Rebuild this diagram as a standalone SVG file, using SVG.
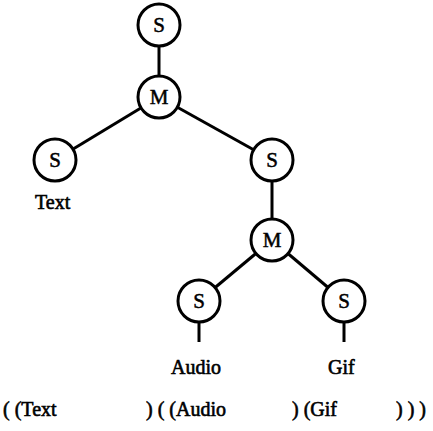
<svg xmlns="http://www.w3.org/2000/svg" width="433" height="431" viewBox="0 0 433 431">
<style>
.n{fill:#fff;stroke:#000;stroke-width:3}
.c line{stroke:#000;stroke-width:3}
.l{font-family:"Liberation Serif",serif;font-size:21px;fill:#000;stroke:#000;stroke-width:0.5;text-anchor:middle}
.t{font-family:"Liberation Serif",serif;font-size:20px;fill:#000;stroke:#000;stroke-width:0.6}
</style>
<rect width="433" height="431" fill="#fff"/>
<g class="c" id="connectors">
<line x1="159" y1="25" x2="159" y2="97"/>
<line x1="159" y1="97" x2="55" y2="160"/>
<line x1="159" y1="97" x2="272" y2="160"/>
<line x1="272" y1="160" x2="272" y2="240"/>
<line x1="272" y1="240" x2="199" y2="301"/>
<line x1="272" y1="240" x2="344" y2="301"/>
<line x1="199" y1="301" x2="199" y2="342"/>
<line x1="344" y1="301" x2="344" y2="342"/>
</g>
<g id="s1"><circle class="n" cx="159" cy="25" r="21"/><text class="l" x="159" y="32">S</text></g>
<g id="m1"><circle class="n" cx="159" cy="97" r="21"/><text class="l" x="159" y="104">M</text></g>
<g id="s2"><circle class="n" cx="55" cy="160" r="21"/><text class="l" x="55" y="167">S</text></g>
<g id="s3"><circle class="n" cx="272" cy="160" r="21"/><text class="l" x="272" y="167">S</text></g>
<g id="m2"><circle class="n" cx="272" cy="240" r="21"/><text class="l" x="272" y="247">M</text></g>
<g id="s4"><circle class="n" cx="199" cy="301" r="21"/><text class="l" x="199" y="308">S</text></g>
<g id="s5"><circle class="n" cx="344" cy="301" r="21"/><text class="l" x="344" y="308">S</text></g>
<text class="t" x="35" y="209">Text</text>
<text class="t" x="171" y="374">Audio</text>
<text class="t" x="328" y="374">Gif</text>
<text class="t" y="416"><tspan x="3">( (Text</tspan><tspan x="146">) ( (Audio</tspan><tspan x="292">) (Gif</tspan><tspan x="396">) ) )</tspan></text>
</svg>
